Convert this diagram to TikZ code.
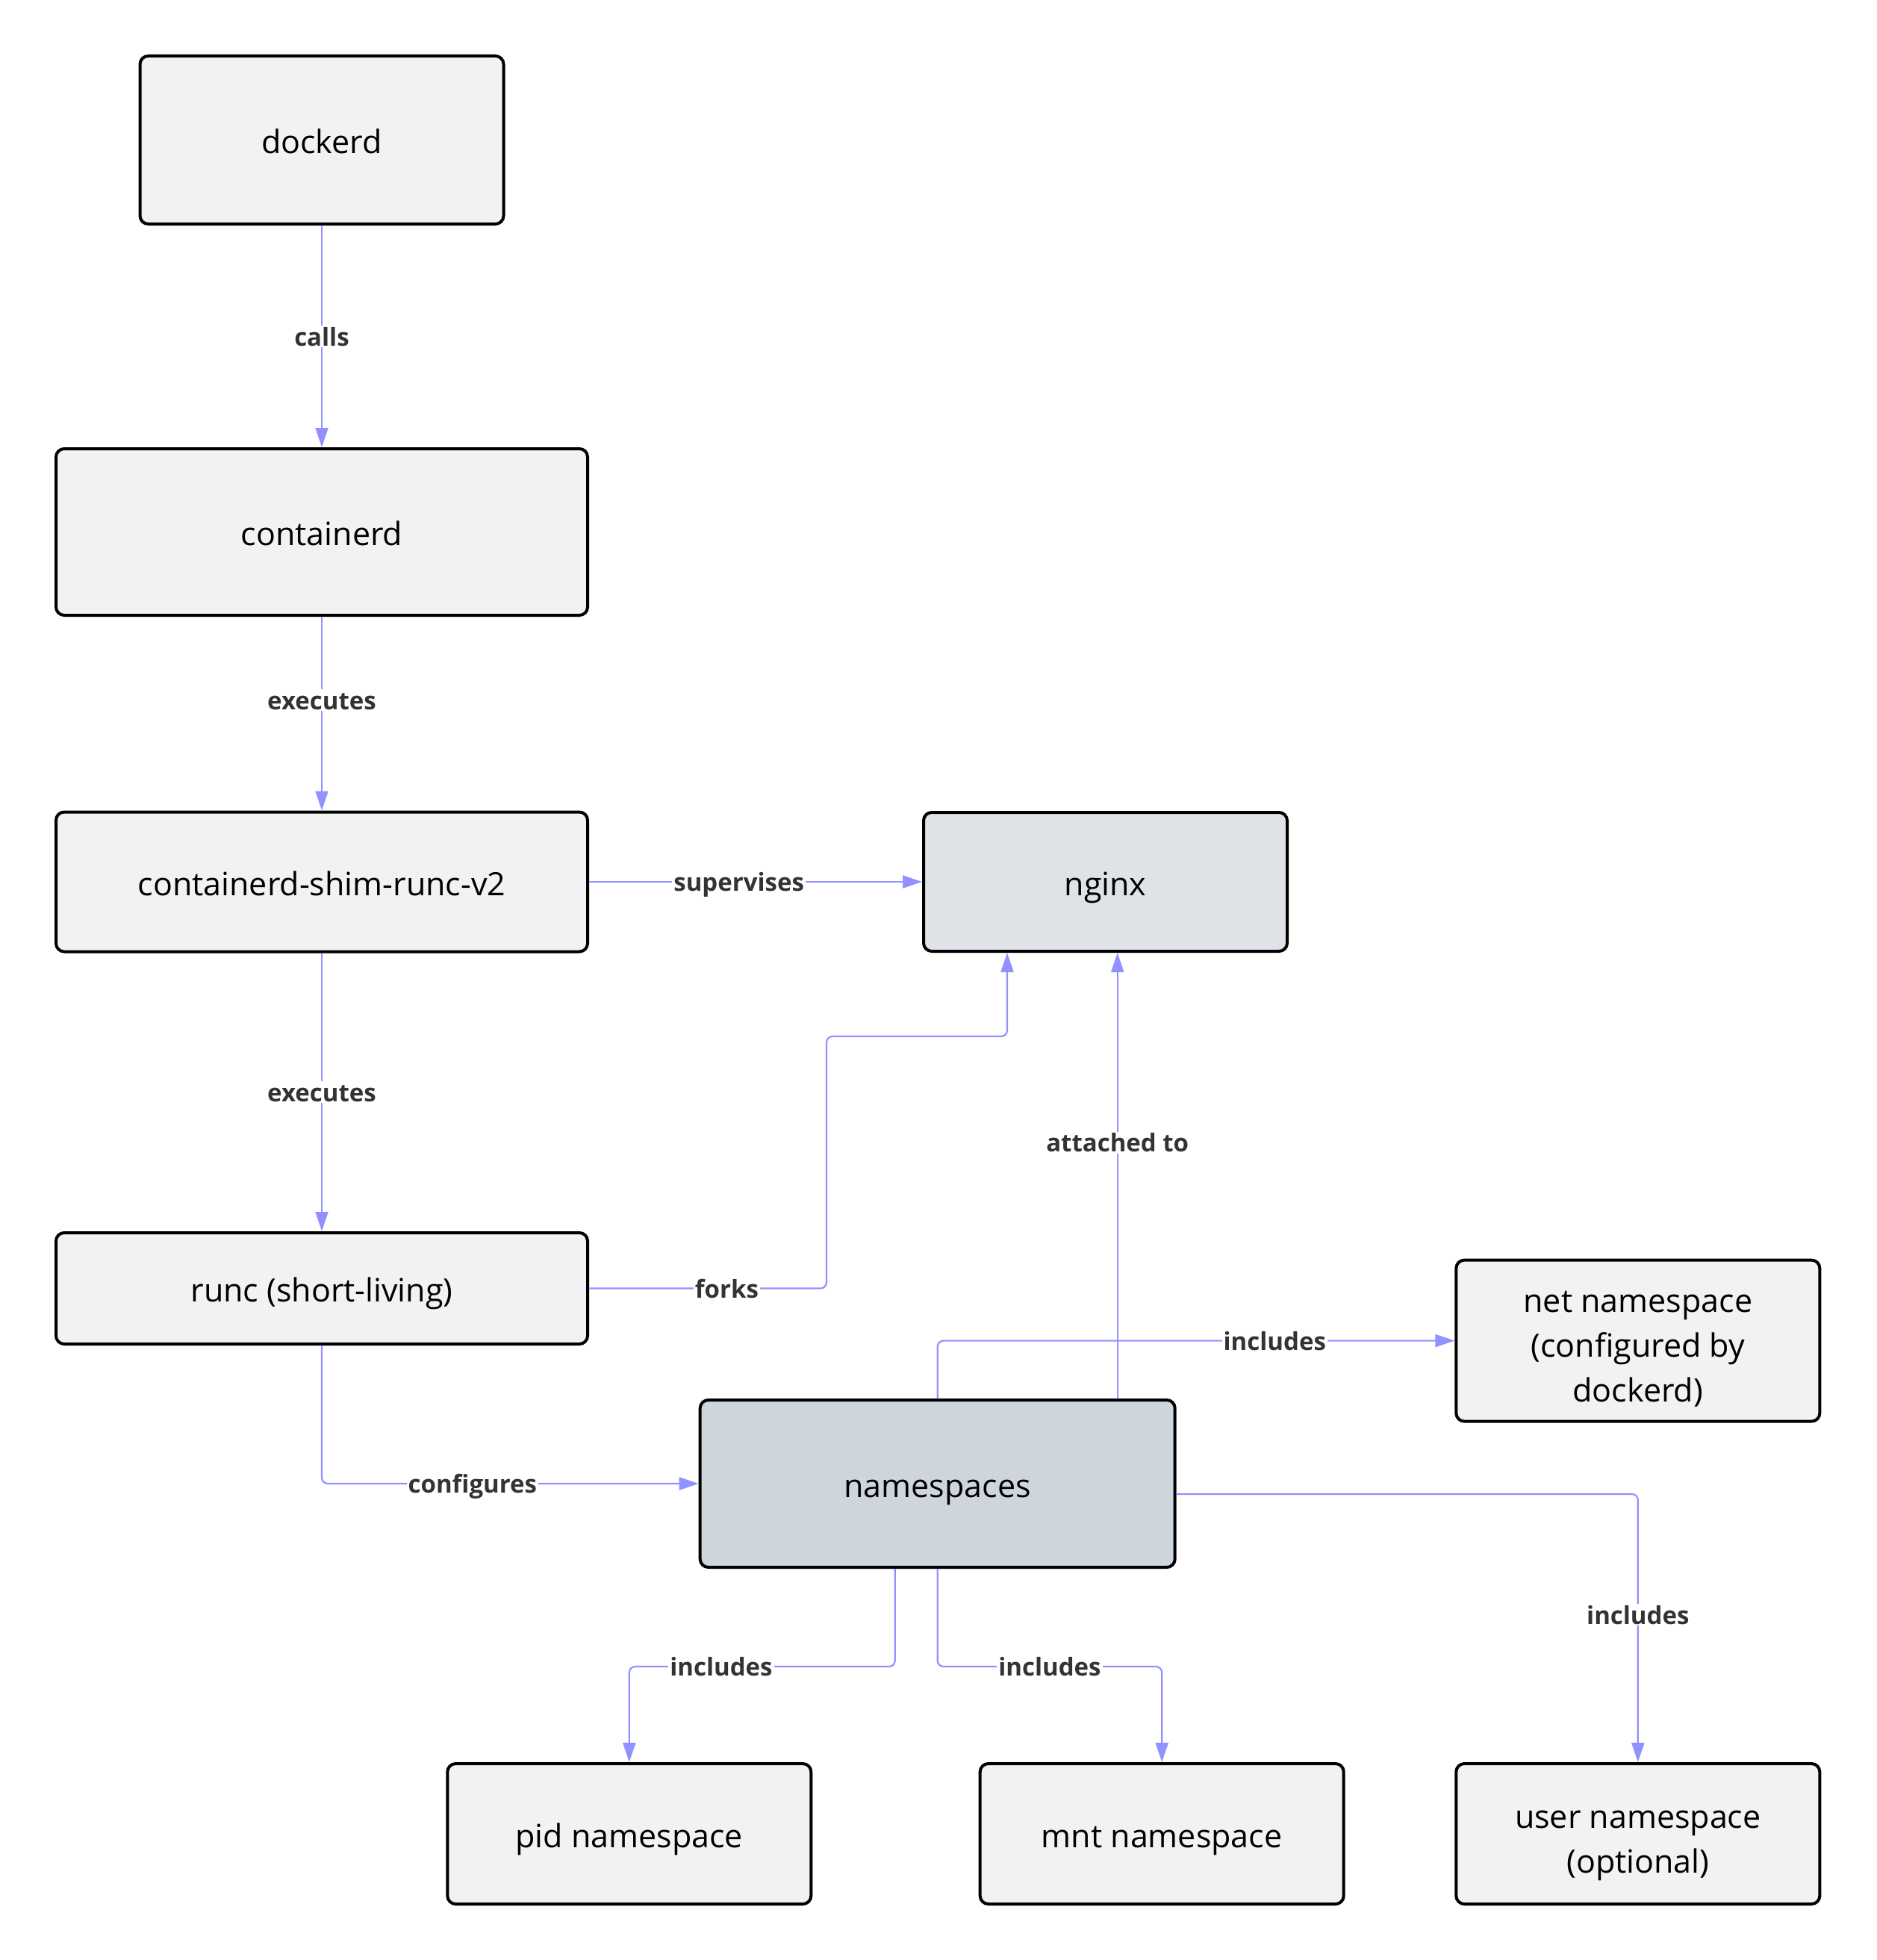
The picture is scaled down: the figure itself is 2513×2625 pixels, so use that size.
\documentclass[tikz,border=0pt]{standalone}
\usepackage{fontspec}
\setmainfont{Open Sans}
\usetikzlibrary{arrows.meta}
\definecolor{boxfill}{HTML}{F1F2F4}
\definecolor{nginxfill}{HTML}{DFE2E6}
\definecolor{nsfill}{HTML}{CED5DD}
\definecolor{edgecol}{HTML}{9191FF}
\definecolor{lblcol}{HTML}{333333}
\newcommand{\lowtext}[1]{\raisebox{-10pt}[\height][\depth]{\begin{tabular}{@{}c@{}}#1\end{tabular}}}
\tikzset{
  basebox/.style={draw=black, line width=4pt, rounded corners=11pt, fill=boxfill,
    align=center, font=\fontsize{43}{60}\selectfont, inner sep=0pt},
  box/.style={basebox, text height=45pt, text depth=9pt},
  multibox/.style={basebox},
  edge/.style={draw=edgecol, line width=2.2pt, rounded corners=8pt,
    -{Triangle[length=26pt,width=17pt]}},
  lbl/.style={fill=white, text=lblcol, font=\fontsize{33}{40}\selectfont\bfseries,
    inner sep=2pt, rounded corners=0pt, text height=25pt, text depth=0pt}
}
\begin{document}
\begin{tikzpicture}[x=1pt,y=-1pt]
\useasboundingbox (0,0) rectangle (2513,2625);
\fill[white] (0,0) rectangle (2513,2625);

\node[box, minimum width=487pt, minimum height=225pt] (dockerd) at (431,187.5) {dockerd};
\node[box, minimum width=712pt, minimum height=223pt] (containerd) at (431,712.5) {containerd};
\node[box, minimum width=712pt, minimum height=187pt] (shim) at (431,1181) {containerd-shim-runc-v2};
\node[box, minimum width=712pt, minimum height=149pt] (runc) at (431,1725.5) {runc (short-living)};
\node[box, fill=nginxfill, minimum width=487pt, minimum height=186pt] (nginx) at (1480.5,1181) {nginx};
\node[box, fill=nsfill, minimum width=636pt, minimum height=224pt] (ns) at (1255.7,1987) {namespaces};
\node[multibox, minimum width=487pt, minimum height=216pt] (net) at (2193.8,1795.6) {\lowtext{net namespace\\(configured by\\dockerd)}};
\node[box, minimum width=487pt, minimum height=188pt] (pid) at (842.8,2456) {pid namespace};
\node[box, minimum width=487pt, minimum height=188pt] (mnt) at (1556.2,2456) {mnt namespace};
\node[multibox, minimum width=487pt, minimum height=188pt] (user) at (2193.8,2456) {\lowtext{user namespace\\(optional)}};

\coordinate (f1) at (1107,1388);

\draw[edge] (dockerd) -- node[lbl,pos=0.5] {calls} (containerd);
\draw[edge] (containerd) -- node[lbl,pos=0.43] {executes} (shim);
\draw[edge] (shim) -- node[lbl,pos=0.45] {supervises} (nginx);
\draw[edge] (shim) -- node[lbl,pos=0.5] {executes} (runc);
\draw[edge] (runc.east) -| node[lbl,pos=0.29] {forks} (f1) -| ([xshift=-131.5pt]nginx.south);
\draw[edge] (runc.south) |- node[lbl,pos=0.7] {configures} (ns.west);
\draw[edge] ([xshift=241pt]ns.north) -- node[lbl,pos=0.574] {attached to} ([xshift=16.2pt]nginx.south);
\draw[edge] (ns.north) |- node[lbl,pos=0.826] {includes} (net.west);
\draw[edge] ([yshift=-14pt]ns.east) -| node[lbl,pos=0.725] {includes} (user.north);
\draw[edge] ([xshift=-57pt]ns.south) -- ++(0,131) -| node[lbl,pos=0.327] {includes} (pid.north);
\draw[edge] (ns.south) -- ++(0,131) -| node[lbl,pos=0.25] {includes} (mnt.north);
\end{tikzpicture}
\end{document}
